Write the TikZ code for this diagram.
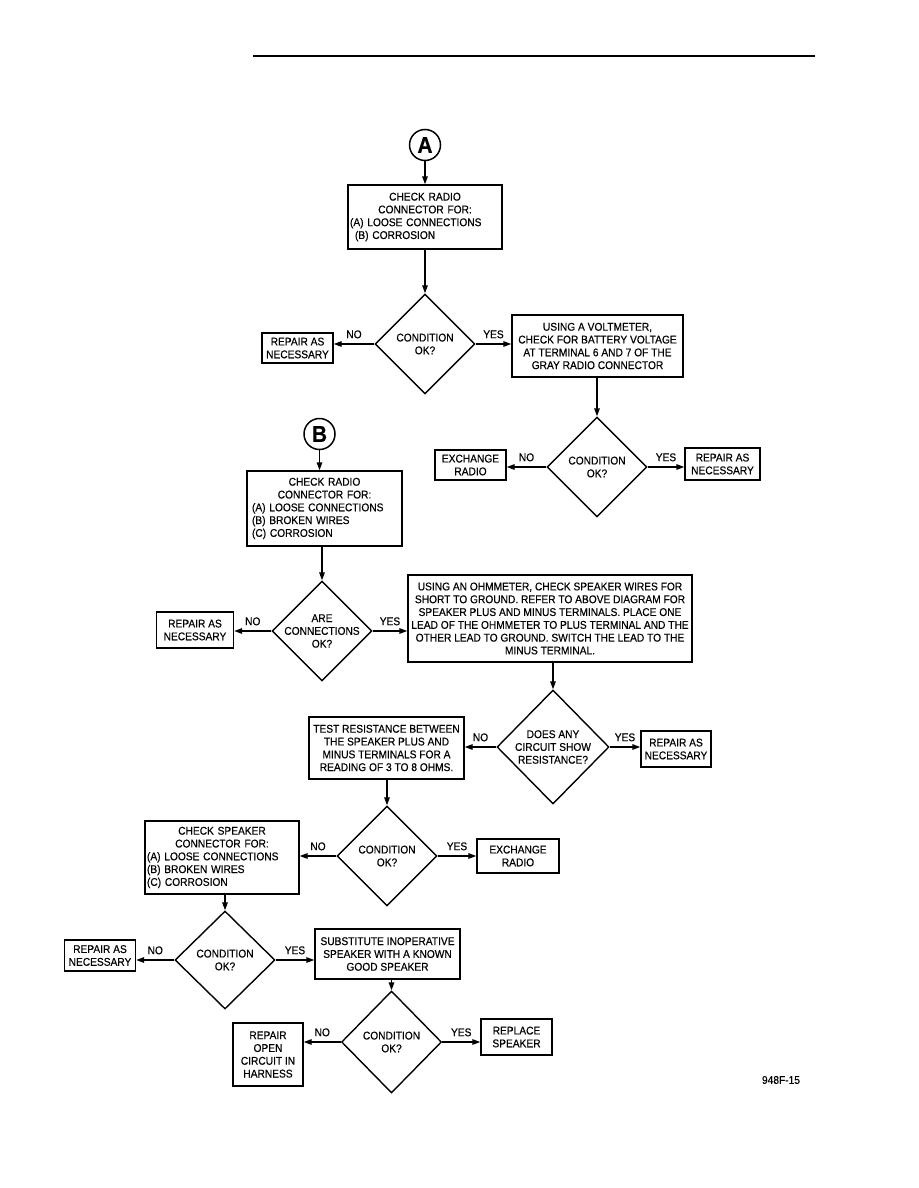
\documentclass[tikz,border=0pt]{standalone}
\usepackage{fontspec}
\setmainfont{Liberation Sans}[FakeStretch=0.91, FakeBold=0.4]
\usepackage{tikz}
\usetikzlibrary{arrows.meta}
\usetikzlibrary{shapes.geometric}
\newcommand{\ctrline}[1]{\makebox[\hsize]{#1}}
\tikzset{
    flowbox/.style={
        draw,
        line width=1.4pt,
        align=center,
        inner xsep=2pt,
        inner ysep=1pt,
        font=\fontsize{11.2}{12.8}\selectfont
    },
    % diamond only, its text is a node of its own
    decision/.style={
        shape=diamond,
        draw,
        line width=1.4pt,
        inner sep=0pt,
        minimum width=100pt,
        minimum height=100pt
    },
    dtext/.style={
        align=center,
        inner sep=0pt,
        font=\fontsize{11.2}{12.8}\selectfont
    },
    flowarrow/.style={
        line width=1.4pt,
        -{Triangle[length=8pt, width=5.5pt]}
    },
    yesno/.style={
        above=5pt,
        inner sep=0pt,
        font=\fontsize{11.2}{12.8}\selectfont
    },
    connector/.style={
        circle,
        draw,
        line width=1.5pt,
        minimum size=31pt,
        inner sep=0pt,
        font=\fontsize{23}{23}\selectfont\bfseries
    }
}

\begin{document}
\begin{tikzpicture}[x=1pt,y=-1pt]
    \useasboundingbox (0,0) rectangle (918,1188);
    \draw[line width=2pt] (253,56) -- (815,56);

    % part A
    \node[connector] (cA) at (425,145) {A};
    \node[flowbox, align=left, text width=150pt, minimum height=64pt] (radA) at (425,217)
        {\ctrline{CHECK RADIO}\\\ctrline{CONNECTOR FOR:}\\(A) LOOSE CONNECTIONS\\\hspace*{5pt}(B) CORROSION};
    \node[decision] (d1) at (425,344) {};
    \node[dtext] (d1t) at (d1) {CONDITION\\OK?};
    \node[flowbox, minimum width=71pt, minimum height=30pt] (rep1) at (297.5,348) {REPAIR AS\\NECESSARY};
    \node[flowbox, minimum width=171pt, minimum height=62pt] (volt) at (597.5,346)
        {USING A VOLTMETER,\\CHECK FOR BATTERY VOLTAGE\\AT TERMINAL 6 AND 7 OF THE\\GRAY RADIO CONNECTOR};
    \node[decision] (d2) at (597,467) {};
    \node[dtext] (d2t) at (d2) {CONDITION\\OK?};
    \node[flowbox, minimum width=71pt, minimum height=30pt] (exch1) at (470.5,465) {EXCHANGE\\RADIO};
    \node[flowbox, minimum width=75pt, minimum height=32pt] (rep2) at (722.5,464) {REPAIR AS\\NECESSARY};

    \draw[flowarrow] (cA) -- (radA);
    \draw[flowarrow] (radA) -- (d1);
    \draw[flowarrow] (d1.west) -- (d1.west -| rep1.east) node[yesno, midway] (no1) {NO};
    \draw[flowarrow] (d1.east) -- (d1.east -| volt.west) node[yesno, midway] (yes1) {YES};
    \draw[flowarrow] (d2.north |- volt.south) -- (d2.north);
    \draw[flowarrow] (d2.west) -- (d2.west -| exch1.east) node[yesno, midway] (no2) {NO};
    \draw[flowarrow] (d2.east) -- (d2.east -| rep2.west) node[yesno, midway] (yes2) {YES};

    % part B
    \node[connector] (cB) at (319.5,434) {B};
    \node[flowbox, align=left, text width=151pt, minimum height=75pt] (radB) at (324.5,508.5)
        {\ctrline{CHECK RADIO}\\\ctrline{CONNECTOR FOR:}\\\hspace*{3pt}(A) LOOSE CONNECTIONS\\\hspace*{3pt}(B) BROKEN WIRES\\\hspace*{3pt}(C) CORROSION};
    \node[decision] (d3) at (322,631) {};
    \node[dtext] (d3t) at (d3) {ARE\\CONNECTIONS\\OK?};
    \node[flowbox, minimum width=77pt, minimum height=36pt] (rep3) at (195,630) {REPAIR AS\\NECESSARY};
    \node[flowbox, inner xsep=0pt, minimum width=284pt, minimum height=87pt] (ohm) at (550,618.5)
        {USING AN OHMMETER, CHECK SPEAKER WIRES FOR\\SHORT TO GROUND. REFER TO ABOVE DIAGRAM FOR\\SPEAKER PLUS AND MINUS TERMINALS. PLACE ONE\\LEAD OF THE OHMMETER TO PLUS TERMINAL AND THE\\OTHER LEAD TO GROUND. SWITCH THE LEAD TO THE\\MINUS TERMINAL.};
    \node[decision, minimum width=112pt, minimum height=114pt] (d4) at (553,747) {};
    \node[dtext] (d4t) at (d4) {DOES ANY\\CIRCUIT SHOW\\RESISTANCE?};
    \node[flowbox, minimum width=155pt, minimum height=62pt] (test) at (386.5,748)
        {TEST RESISTANCE BETWEEN\\THE SPEAKER PLUS AND\\MINUS TERMINALS FOR A\\READING OF 3 TO 8 OHMS.};
    \node[flowbox, minimum width=70pt, minimum height=36pt] (rep4) at (676,749) {REPAIR AS\\NECESSARY};
    \node[decision] (d5) at (387,856) {};
    \node[dtext] (d5t) at (d5) {CONDITION\\OK?};
    \node[flowbox, align=left, text width=150pt, minimum height=73pt] (spk) at (222,857.5)
        {\ctrline{CHECK SPEAKER}\\\ctrline{CONNECTOR FOR:}\\(A) LOOSE CONNECTIONS\\(B) BROKEN WIRES\\(C) CORROSION};
    \node[flowbox, minimum width=82pt, minimum height=34pt] (exch2) at (518,856) {EXCHANGE\\RADIO};
    \node[decision, minimum height=98pt] (d6) at (225,960) {};
    \node[dtext] (d6t) at (d6) {CONDITION\\OK?};
    \node[flowbox, minimum width=71pt, minimum height=31pt] (rep5) at (100,955.5) {REPAIR AS\\NECESSARY};
    \node[flowbox, minimum width=145pt, minimum height=50pt] (subst) at (387.5,954)
        {SUBSTITUTE INOPERATIVE\\SPEAKER WITH A KNOWN\\GOOD SPEAKER};
    \node[decision, minimum height=102pt] (d7) at (391.5,1042) {};
    \node[dtext] (d7t) at (d7) {CONDITION\\OK?};
    \node[flowbox, minimum width=70pt, minimum height=63pt] (harn) at (268,1054.5) {REPAIR\\OPEN\\CIRCUIT IN\\HARNESS};
    \node[flowbox, minimum width=71pt, minimum height=36pt] (repl) at (516.5,1037) {REPLACE\\SPEAKER};

    \draw[flowarrow] (cB.south) -- (cB.south |- radB.north);
    \draw[flowarrow] (d3.north |- radB.south) -- (d3.north);
    \draw[flowarrow] (d3.west) -- (d3.west -| rep3.east) node[yesno, midway] (no3) {NO};
    \draw[flowarrow] (d3.east) -- (d3.east -| ohm.west) node[yesno, midway] (yes3) {YES};
    \draw[flowarrow] (d4.north |- ohm.south) -- (d4.north);
    \draw[flowarrow] (d4.west) -- (d4.west -| test.east) node[yesno, midway] (no4) {NO};
    \draw[flowarrow] (d4.east) -- (d4.east -| rep4.west) node[yesno, midway] (yes4) {YES};
    \draw[flowarrow] (d5.north |- test.south) -- (d5.north);
    \draw[flowarrow] (d5.west) -- (d5.west -| spk.east) node[yesno, midway] (no5) {NO};
    \draw[flowarrow] (d5.east) -- (d5.east -| exch2.west) node[yesno, midway] (yes5) {YES};
    \draw[flowarrow] (d6.north |- spk.south) -- (d6.north);
    \draw[flowarrow] (d6.west) -- (d6.west -| rep5.east) node[yesno, midway] (no6) {NO};
    \draw[flowarrow] (d6.east) -- (d6.east -| subst.west) node[yesno, midway] (yes6) {YES};
    \draw[flowarrow] (d7.north |- subst.south) -- (d7.north);
    \draw[flowarrow] (d7.west) -- (d7.west -| harn.east) node[yesno, midway] (no7) {NO};
    \draw[flowarrow] (d7.east) -- (d7.east -| repl.west) node[yesno, midway] (yes7) {YES};

    \node[font=\fontsize{11.2}{12.8}\selectfont] (figno) at (781,1080) {948F-15};
\end{tikzpicture}
\end{document}
